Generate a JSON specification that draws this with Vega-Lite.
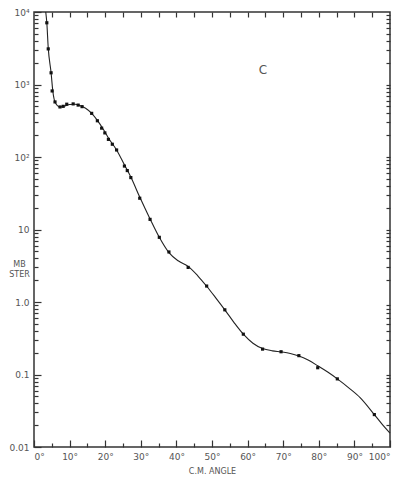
{
  "$schema": "https://vega.github.io/schema/vega-lite/v6.json",
  "width": 356,
  "height": 435,
  "autosize": {"type": "none"},
  "padding": {"left": 34, "top": 12, "right": 13, "bottom": 38},
  "background": "white",
  "config": {
    "view": {"stroke": "#333", "strokeWidth": 1.5},
    "axis": {"labelFont": "DejaVu Sans", "titleFont": "DejaVu Sans", "grid": false, "domain": false, "tickColor": "#333", "tickWidth": 1.2, "labelColor": "#555", "titleColor": "#555"}
  },
  "datasets": {
    "curve": [
      {"angle": 3.3, "xs": 10000}, {"angle": 3.6, "xs": 7100}, {"angle": 4.0, "xs": 3200}, {"angle": 4.8, "xs": 1450},
      {"angle": 5.3, "xs": 800}, {"angle": 6.0, "xs": 560}, {"angle": 7.3, "xs": 490}, {"angle": 8.5, "xs": 505},
      {"angle": 10, "xs": 530}, {"angle": 11.5, "xs": 535}, {"angle": 13, "xs": 510}, {"angle": 14.5, "xs": 470},
      {"angle": 16.2, "xs": 400}, {"angle": 17.8, "xs": 320}, {"angle": 19.5, "xs": 240}, {"angle": 21, "xs": 180},
      {"angle": 23.2, "xs": 125}, {"angle": 25.4, "xs": 78}, {"angle": 27.2, "xs": 53}, {"angle": 29.7, "xs": 28},
      {"angle": 32.6, "xs": 14}, {"angle": 35.2, "xs": 7.8}, {"angle": 37.9, "xs": 4.8}, {"angle": 40.5, "xs": 3.7},
      {"angle": 43.3, "xs": 3.1}, {"angle": 46, "xs": 2.3}, {"angle": 48.5, "xs": 1.65}, {"angle": 51, "xs": 1.15},
      {"angle": 53.6, "xs": 0.78}, {"angle": 56.2, "xs": 0.52}, {"angle": 58.8, "xs": 0.36}, {"angle": 61.5, "xs": 0.27},
      {"angle": 64.2, "xs": 0.228}, {"angle": 67, "xs": 0.212}, {"angle": 69.4, "xs": 0.205}, {"angle": 72, "xs": 0.195},
      {"angle": 74.4, "xs": 0.18}, {"angle": 77, "xs": 0.158}, {"angle": 79.7, "xs": 0.132}, {"angle": 82.5, "xs": 0.108},
      {"angle": 85.2, "xs": 0.087}, {"angle": 88.5, "xs": 0.065}, {"angle": 91.6, "xs": 0.048}, {"angle": 95.6, "xs": 0.028},
      {"angle": 98, "xs": 0.02}, {"angle": 100, "xs": 0.0155}
    ],
    "points": [
      {"angle": 3.6, "xs": 7100}, {"angle": 4.0, "xs": 3100}, {"angle": 4.8, "xs": 1450}, {"angle": 5.1, "xs": 815},
      {"angle": 5.9, "xs": 575}, {"angle": 7.3, "xs": 490}, {"angle": 8.2, "xs": 500}, {"angle": 9.2, "xs": 535},
      {"angle": 11.0, "xs": 540}, {"angle": 12.4, "xs": 520}, {"angle": 13.5, "xs": 495}, {"angle": 16.2, "xs": 400},
      {"angle": 17.8, "xs": 316}, {"angle": 19.0, "xs": 250}, {"angle": 19.9, "xs": 215}, {"angle": 20.9, "xs": 175},
      {"angle": 22.0, "xs": 150}, {"angle": 23.2, "xs": 125}, {"angle": 25.4, "xs": 75}, {"angle": 26.2, "xs": 65},
      {"angle": 27.2, "xs": 52}, {"angle": 29.7, "xs": 27}, {"angle": 32.6, "xs": 13.8}, {"angle": 35.2, "xs": 7.8},
      {"angle": 37.9, "xs": 4.9}, {"angle": 43.3, "xs": 3.0}, {"angle": 48.5, "xs": 1.66}, {"angle": 53.6, "xs": 0.78},
      {"angle": 58.8, "xs": 0.36}, {"angle": 64.2, "xs": 0.224}, {"angle": 69.4, "xs": 0.206}, {"angle": 74.4, "xs": 0.182},
      {"angle": 79.7, "xs": 0.124}, {"angle": 85.2, "xs": 0.087}, {"angle": 95.6, "xs": 0.028}
    ],
    "label": [{"angle": 64.3, "xs": 1585, "text": "C"}]
  },
  "layer": [
    {
      "data": {"name": "curve"},
      "mark": {"type": "line", "interpolate": "monotone", "color": "#222", "strokeWidth": 1.1},
      "encoding": {
        "x": {"field": "angle", "type": "quantitative", "scale": {"domain": [0, 100], "nice": false},
          "axis": {"orient": "bottom", "offset": -7, "values": [0,10,20,30,40,50,60,70,80,90,100], "tickSize": 7, "labelPadding": 5, "labelFontSize": 9, "labelExpr": "datum.value + '°'", "title": "C.M. ANGLE", "titleFontSize": 8, "titleFontWeight": "normal", "titlePadding": 6}},
        "y": {"field": "xs", "type": "quantitative", "scale": {"type": "log", "domain": [0.01, 10000], "nice": false},
          "axis": {"orient": "left", "offset": -7, "values": [0.01,0.1,1,10,100,1000,10000], "tickSize": 7, "labelPadding": 5, "labelFontSize": 9,
            "labelExpr": "datum.value < 0.05 ? '0.01' : datum.value < 0.5 ? '0.1' : datum.value < 5 ? '1.0' : datum.value < 50 ? '10' : datum.value < 500 ? '10²' : datum.value < 5000 ? '10³' : '10⁴'",
            "title": ["MB", "STER"], "titleAngle": 0, "titleFontSize": 8, "titleFontWeight": "normal", "titleAlign": "center", "titleBaseline": "middle", "titleX": -22, "titleY": 252}}
      }
    },
    {
      "data": {"name": "points"},
      "mark": {"type": "point", "shape": "square", "filled": true, "color": "#111", "size": 10, "opacity": 1},
      "encoding": {
        "x": {"field": "angle", "type": "quantitative",
          "axis": {"orient": "bottom", "offset": -4, "values": [5,15,25,35,45,55,65,75,85,95], "tickSize": 4, "labels": false, "title": null}},
        "y": {"field": "xs", "type": "quantitative",
          "axis": {"orient": "left", "offset": -4, "values": [0.02,0.03,0.04,0.05,0.06,0.07,0.08,0.09,0.2,0.3,0.4,0.5,0.6,0.7,0.8,0.9,2,3,4,5,6,7,8,9,20,30,40,50,60,70,80,90,200,300,400,500,600,700,800,900,2000,3000,4000,5000,6000,7000,8000,9000], "tickSize": 4, "labels": false, "title": null}}
      }
    },
    {
      "data": {"name": "label"},
      "mark": {"type": "text", "fontSize": 12, "font": "DejaVu Sans", "color": "#555"},
      "encoding": {
        "x": {"field": "angle", "type": "quantitative",
          "axis": {"orient": "top", "offset": -5, "values": [5,10,15,20,25,30,35,40,45,50,55,60,65,70,75,80,85,90,95], "tickSize": 5, "labels": false, "title": null}},
        "y": {"field": "xs", "type": "quantitative",
          "axis": {"orient": "right", "offset": -4, "values": [0.02,0.03,0.04,0.05,0.06,0.07,0.08,0.09,0.1,0.2,0.3,0.4,0.5,0.6,0.7,0.8,0.9,2,3,4,5,6,7,8,9,10,20,30,40,50,60,70,80,90,100,200,300,400,500,600,700,800,900,1000,2000,3000,4000,5000,6000,7000,8000,9000], "tickSize": 4, "labels": false, "title": null}},
        "text": {"field": "text"}
      }
    }
  ],
  "resolve": {"axis": {"x": "independent", "y": "independent"}}
}
